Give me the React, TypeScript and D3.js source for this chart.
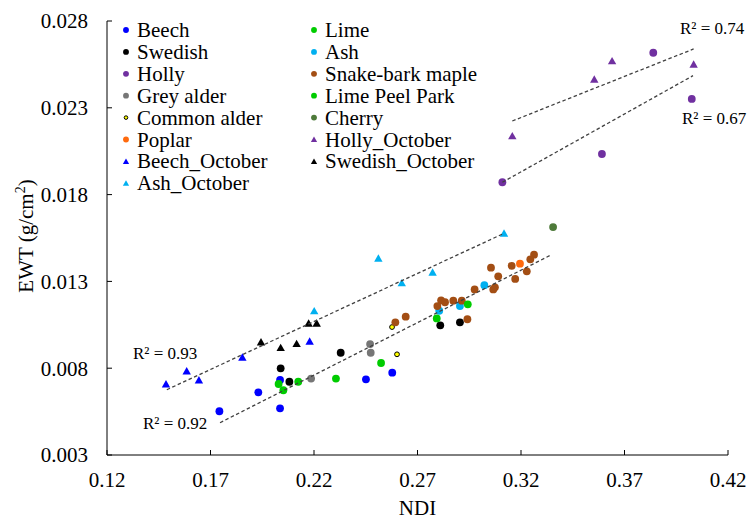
import React from "react";
import * as d3 from "d3";

// ---- Data (NDI, EWT) ----
const beech: [number, number][] = [
  [0.2036, 0.00732], [0.1931, 0.00661], [0.1743, 0.00552], [0.2036, 0.00569], [0.2578, 0.00774], [0.2451, 0.00736],
];
const swedish: [number, number][] = [
  [0.2329, 0.00889], [0.2039, 0.00799], [0.2081, 0.00722], [0.281, 0.01047], [0.2905, 0.01064],
];
const holly: [number, number][] = [
  [0.3839, 0.02617], [0.4025, 0.02351], [0.3591, 0.02034], [0.311, 0.01871],
];
const greyAlder: [number, number][] = [
  [0.2186, 0.0074], [0.2471, 0.00939], [0.2474, 0.00889],
];
const commonAlder: [number, number][] = [
  [0.2577, 0.01037], [0.2601, 0.0088],
];
const poplar: [number, number][] = [[0.3195, 0.01402]];
const beechOct: [number, number][] = [
  [0.1485, 0.00709], [0.1585, 0.00784], [0.1644, 0.00732], [0.1854, 0.00863], [0.2179, 0.00955],
];
const ashOct: [number, number][] = [
  [0.2201, 0.0113], [0.2511, 0.01433], [0.2624, 0.01291], [0.2773, 0.01352], [0.3118, 0.01577],
];
const lime: [number, number][] = [
  [0.2029, 0.00709], [0.2124, 0.00722], [0.2306, 0.0074], [0.2524, 0.0083],
];
const ash: [number, number][] = [
  [0.3023, 0.01278], [0.2905, 0.01158], [0.2805, 0.01131],
];
const snakeBark: [number, number][] = [
  [0.3263, 0.01454], [0.3245, 0.01427], [0.3155, 0.0139], [0.3055, 0.01379], [0.309, 0.01329],
  [0.3228, 0.01358], [0.3172, 0.01314], [0.2976, 0.01254], [0.3074, 0.01266], [0.3066, 0.01254],
  [0.2814, 0.01191], [0.2833, 0.0118], [0.2873, 0.01189], [0.2914, 0.01189], [0.2796, 0.01158],
  [0.2643, 0.01097], [0.2593, 0.01064], [0.2941, 0.01082],
];
const limePeel: [number, number][] = [
  [0.2052, 0.00673], [0.2793, 0.01087], [0.2943, 0.01168],
];
const cherry: [number, number][] = [[0.3355, 0.01613]];
const hollyOct: [number, number][] = [
  [0.3158, 0.02138], [0.3554, 0.02464], [0.364, 0.0257], [0.4034, 0.02551],
];
const swedishOct: [number, number][] = [
  [0.2174, 0.01059], [0.2213, 0.01059], [0.1944, 0.00951], [0.2039, 0.00918], [0.2116, 0.00941],
];

// trend lines: [x0, y0, x1, y1]
const trendLines = [
  { r2: "0.93", seg: [0.1489, 0.00676, 0.3118, 0.01577] },
  { r2: "0.92", seg: [0.1746, 0.00486, 0.3348, 0.01454] },
  { r2: "0.74", seg: [0.3158, 0.02224, 0.4034, 0.02639] },
  { r2: "0.67", seg: [0.311, 0.01871, 0.4031, 0.02485] },
];

const xTicks = [0.12, 0.17, 0.22, 0.27, 0.32, 0.37, 0.42];
const yTicks = [0.003, 0.008, 0.013, 0.018, 0.023, 0.028];

type Shape = "circle" | "triangle" | "small";
const series: { name: string; data: [number, number][]; color: string; shape: Shape }[] = [
  { name: "Beech", data: beech, color: "#0000FF", shape: "circle" },
  { name: "Swedish", data: swedish, color: "#000000", shape: "circle" },
  { name: "Holly", data: holly, color: "#7030A0", shape: "circle" },
  { name: "Grey alder", data: greyAlder, color: "#767676", shape: "circle" },
  { name: "Common alder", data: commonAlder, color: "#FFFF00", shape: "small" },
  { name: "Poplar", data: poplar, color: "#FF6A0E", shape: "circle" },
  { name: "Beech_October", data: beechOct, color: "#0000FF", shape: "triangle" },
  { name: "Ash_October", data: ashOct, color: "#00B0F0", shape: "triangle" },
  { name: "Lime", data: lime, color: "#00CC00", shape: "circle" },
  { name: "Ash", data: ash, color: "#00B0F0", shape: "circle" },
  { name: "Snake-bark maple", data: snakeBark, color: "#A34E14", shape: "circle" },
  { name: "Lime Peel Park", data: limePeel, color: "#00CC00", shape: "circle" },
  { name: "Cherry", data: cherry, color: "#4E7A3A", shape: "circle" },
  { name: "Holly_October", data: hollyOct, color: "#7030A0", shape: "triangle" },
  { name: "Swedish_October", data: swedishOct, color: "#000000", shape: "triangle" },
];

const FONT = "'Liberation Serif', 'Times New Roman', serif";

function Marker({ x, y, color, shape, scale = 1 }: { x: number; y: number; color: string; shape: Shape; scale?: number }) {
  if (shape === "circle") return <circle cx={x} cy={y} r={3.9 * scale} fill={color} />;
  if (shape === "small")
    return <circle cx={x} cy={y} r={2.4 * scale} fill={color} stroke="#000" strokeWidth={1} />;
  const w = 4.2 * scale, t = 4 * scale, b = 3.4 * scale;
  return <path d={`M${x},${y - t}L${x + w},${y + b}L${x - w},${y + b}Z`} fill={color} />;
}

export default function App() {
  const x = d3.scaleLinear().domain([0.12, 0.42]).range([107, 728]);
  const y = d3.scaleLinear().domain([0.003, 0.028]).range([455, 21]);
  const fmt = d3.format(".2f");
  const fmtY = d3.format(".3f");

  const labelPos: Record<string, { x: number; y: number }> = {
    "0.93": { x: 133, y: 359 },
    "0.92": { x: 143, y: 429 },
    "0.74": { x: 680, y: 34 },
    "0.67": { x: 682, y: 124 },
  };

  const legendX = [126, 314];
  const legendY0 = 30;
  const legendDy = 21.9;

  return (
    <svg width={747} height={522} style={{ position: "absolute", left: 0, top: 0, background: "#fff" }} fontFamily={FONT}>
      <rect width={747} height={522} fill="#fff" />
      {/* axes */}
      <line x1={107} x2={107} y1={y(0.028)} y2={y(0.003)} stroke="#000" strokeWidth={1} />
      <line x1={107} x2={728} y1={455} y2={455} stroke="#000" strokeWidth={1} />
      {yTicks.map((t) => (
        <g key={"y" + t}>
          <line x1={107} x2={112} y1={y(t)} y2={y(t)} stroke="#000" />
          <text x={88} y={y(t)} dy="0.35em" textAnchor="end" fontSize={21} fill="#000">
            {fmtY(t)}
          </text>
        </g>
      ))}
      {xTicks.map((t) => (
        <g key={"x" + t}>
          <line x1={x(t)} x2={x(t)} y1={455} y2={450} stroke="#000" />
          <text x={x(t)} y={487} textAnchor="middle" fontSize={21} fill="#000">
            {fmt(t)}
          </text>
        </g>
      ))}
      <text x={x(0.27)} y={515} textAnchor="middle" fontSize={21} fill="#000">NDI</text>
      <text transform="translate(33,236) rotate(-90)" textAnchor="middle" fontSize={21} fill="#000">
        EWT (g/cm<tspan dy={-8} fontSize={14}>2</tspan><tspan dy={8}>)</tspan>
      </text>

      {/* points */}
      {series.map((s) =>
        s.data.map((d, i) => (
          <Marker key={s.name + i} x={x(d[0])} y={y(d[1])} color={s.color} shape={s.shape} />
        ))
      )}

      {/* trend lines */}
      {trendLines.map((l) => (
        <line
          key={l.r2}
          x1={x(l.seg[0])}
          y1={y(l.seg[1])}
          x2={x(l.seg[2])}
          y2={y(l.seg[3])}
          stroke="#404040"
          strokeWidth={1.3}
          strokeDasharray="3.5,2.5"
        />
      ))}
      {trendLines.map((l) => (
        <text key={"t" + l.r2} x={labelPos[l.r2].x} y={labelPos[l.r2].y} fontSize={17} fill="#000">
          {"R² = " + l.r2}
        </text>
      ))}

      {/* legend */}
      {series.map((s, i) => {
        const col = i < 8 ? 0 : 1;
        const row = i < 8 ? i : i - 8;
        const ly = legendY0 + row * legendDy;
        return (
          <g key={"lg" + s.name}>
            <Marker x={legendX[col]} y={ly} color={s.color} shape={s.shape} scale={0.75} />
            <text x={legendX[col] + 11} y={ly + 7} fontSize={21} fill="#000">
              {s.name}
            </text>
          </g>
        );
      })}
    </svg>
  );
}
